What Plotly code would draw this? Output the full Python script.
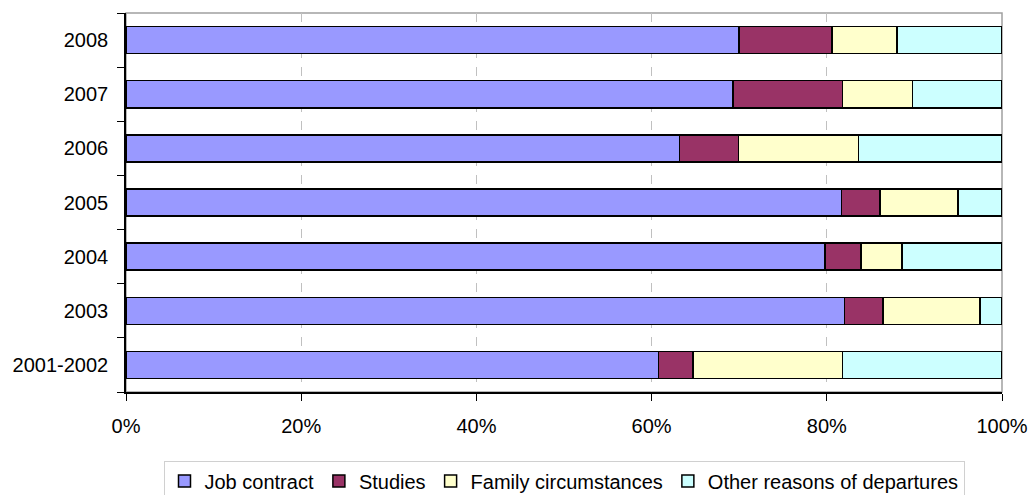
import plotly.graph_objects as go

categories = ["2001-2002", "2003", "2004", "2005", "2006", "2007", "2008"]
job_contract = [60.8, 82.0, 79.8, 81.7, 63.2, 69.3, 70.0]
studies = [3.9, 4.4, 4.1, 4.4, 6.7, 12.5, 10.6]
family = [17.1, 11.1, 4.7, 8.9, 13.7, 8.0, 7.4]
other = [18.2, 2.5, 11.4, 5.0, 16.4, 10.2, 12.0]

series_names = ["Job contract", "Studies", "Family circumstances", "Other reasons of departures"]
series_values = [job_contract, studies, family, other]
series_colors = ["#9999FF", "#993366", "#FFFFCC", "#CCFFFF"]

x_ticks = [0, 20, 40, 60, 80, 100]
x_tick_labels = ["0%", "20%", "40%", "60%", "80%", "100%"]

fig = go.Figure()
for name, vals, col in zip(series_names, series_values, series_colors):
    fig.add_trace(go.Bar(
        y=categories, x=vals, name=name, orientation="h",
        marker=dict(color=col, line=dict(color="black", width=1.5)),
    ))

FONT = "Liberation Sans, Arial, sans-serif"
fig.update_layout(
    barmode="stack",
    bargap=0.5,
    width=1029, height=495,
    margin=dict(l=126, r=27, t=13, b=103, autoexpand=False),
    paper_bgcolor="white", plot_bgcolor="white",
    font=dict(family=FONT, size=20, color="black"),
    showlegend=True,
    legend=dict(
        orientation="h", x=0.5, xanchor="center", y=-0.235, yanchor="middle",
        bordercolor="#D0D0D0", borderwidth=1, font=dict(size=20, family=FONT),
        itemwidth=30, traceorder="normal",
        itemclick=False,
    ),
    xaxis=dict(
        range=[0, 100], tickmode="array", tickvals=x_ticks, ticktext=x_tick_labels,
        showgrid=True, gridcolor="#C0C0C0", griddash="dash", gridwidth=1,
        showline=True, linecolor="black", linewidth=1.5,
        ticks="outside", ticklen=7, tickcolor="black", tickwidth=1,
        zeroline=False, ticklabelstandoff=8, automargin=False,
    ),
    yaxis=dict(
        type="category", categoryorder="array", categoryarray=categories,
        showline=True, linecolor="black", linewidth=1.5,
        ticks="outside", ticklen=7, tickcolor="black", tickwidth=1,
        tickson="boundaries", showgrid=False, ticklabelstandoff=12,
        automargin=False,
    ),
    shapes=[dict(type="rect", xref="paper", yref="paper", x0=0, x1=1, y0=0, y1=1,
                 line=dict(color="#A0A0A0", width=1.5), layer="below")],
)

fig.write_html("out.html")
